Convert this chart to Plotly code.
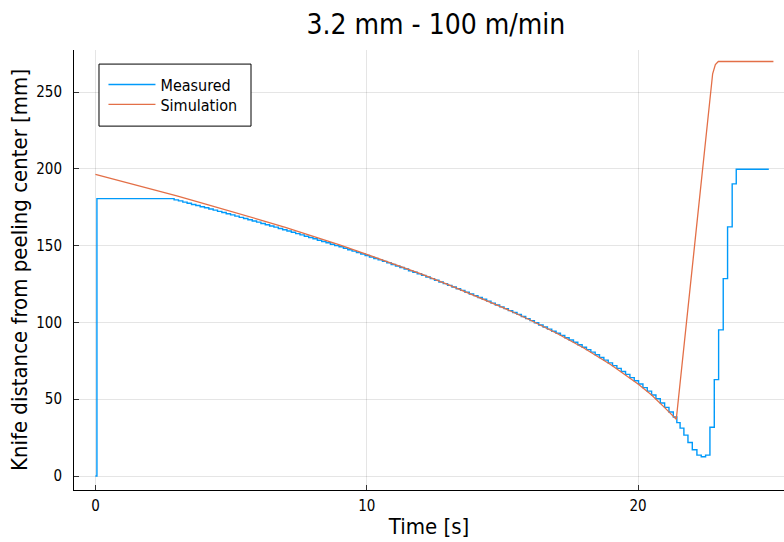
import numpy as np
import plotly.graph_objects as go

# ---------------- data ----------------
# Simulation (time [s], distance [mm])
sim_t = [0, 1, 2, 3, 4, 5, 6, 7, 8, 9, 10, 11, 12, 13, 14, 15, 16, 17, 18, 19,
         20, 20.5, 21, 21.2, 21.41, 22.75, 22.85, 22.96, 24.99]
sim_v = [196.5, 191.9, 187.2, 182.4, 177.5, 172.5, 167.2, 161.9, 156.3, 150.5,
         144.4, 138.1, 131.6, 124.7, 117.4, 109.9, 101.8, 93.0, 83.4, 72.5,
         59.9, 52.7, 44.2, 40.4, 37.0, 262.0, 268.0, 270.0, 270.0]

# Measured: start, flat section
meas_start_t = [0.0, 0.055]
meas_start_v = [0.0, 180.7]

# Measured: sampled descent (sample period 0.16 s from t = 2.74 s)
meas_t0 = 2.74
meas_dt = 0.16
meas_desc_v = [
    180.7, 179.9, 179.2, 178.4, 177.7, 176.9, 176.2, 175.4, 174.7, 173.9,
    173.2, 172.4, 171.6, 170.8, 170.1, 169.3, 168.5, 167.7, 166.9, 166.1,
    165.4, 164.5, 163.7, 162.9, 162.1, 161.2, 160.4, 159.6, 158.8, 157.9,
    157.1, 156.2, 155.4, 154.5, 153.6, 152.8, 151.9, 151.0, 150.1, 149.3,
    148.4, 147.4, 146.5, 145.5, 144.6, 143.6, 142.7, 141.7, 140.8, 139.8,
    138.9, 137.8, 136.8, 135.8, 134.8, 133.7, 132.7, 131.7, 130.7, 129.6,
    128.6, 127.5, 126.4, 125.3, 124.2, 123.1, 122.0, 120.9, 119.7, 118.6,
    117.5, 116.3, 115.1, 113.9, 112.6, 111.4, 110.2, 109.0, 107.7, 106.5,
    105.3, 103.9, 102.5, 101.2, 99.8, 98.4, 97.1, 95.7, 94.3, 93.0,
    91.6, 90.1, 88.6, 87.1, 85.5, 83.9, 82.3, 80.7, 79.0, 77.2,
    75.5, 73.7, 71.9, 70.1, 68.1, 66.2, 64.1, 62.0, 59.9, 57.6,
    55.3, 52.8, 50.3, 47.6, 44.7, 41.7, 38.4,
]

# Measured: tail (dip and retraction)
meas_tail_t = [21.43, 21.55, 21.69, 21.84, 22.00, 22.17, 22.33, 22.49, 22.65,
               22.81, 22.97, 23.14, 23.30, 23.47, 23.62, 24.82]
meas_tail_v = [34.8, 31.2, 26.6, 21.8, 17.1, 13.6, 12.5, 13.6, 31.8,
               62.8, 95.2, 128.6, 162.3, 190.3, 199.8, 199.8]

x_ticks = [0, 10, 20]
y_ticks = [0, 50, 100, 150, 200, 250]

title_text = "3.2 mm - 100 m/min"
x_title = "Time [s]"
y_title = "Knife distance from peeling center [mm]"

# ---------------- assemble ----------------
meas_desc_t = list(np.round(meas_t0 + meas_dt * np.arange(len(meas_desc_v)), 3))
meas_t = meas_start_t + meas_desc_t + meas_tail_t
meas_v = meas_start_v + meas_desc_v + meas_tail_v

FONT = "DejaVu Sans Condensed, DejaVu Sans, sans-serif"

fig = go.Figure()
fig.add_trace(go.Scatter(x=meas_t, y=meas_v, mode="lines", name="Measured",
                         legend="legend",
                         line=dict(color="#009AFA", width=1.4, shape="hv")))
fig.add_trace(go.Scatter(x=sim_t, y=sim_v, mode="lines", name="Simulation",
                         legend="legend2",
                         line=dict(color="#E36F47", width=1.3)))

axis_common = dict(showline=True, linecolor="black", linewidth=1,
                   showgrid=True, gridcolor="rgba(0,0,0,0.1)", gridwidth=1,
                   ticks="inside", ticklen=5, tickcolor="#333333",
                   zeroline=False, automargin=False,
                   tickfont=dict(size=15, color="black", family=FONT),
                   mirror=False)

# legend frame (decoration, paper coordinates)
fig.add_shape(type="rect", xref="paper", yref="paper",
              x0=0.0352, x1=0.2493, y0=0.827, y1=0.968,
              line=dict(color="black", width=1), fillcolor="white", layer="above")

legend_common = dict(xanchor="left", yanchor="top", borderwidth=0,
                     bgcolor="rgba(0,0,0,0)", itemwidth=47,
                     font=dict(size=16, family=FONT, color="black"))

fig.update_layout(
    width=784, height=542,
    margin=dict(l=74, r=0, t=50, b=52),
    paper_bgcolor="white", plot_bgcolor="white",
    font=dict(family=FONT, color="black"),
    title=dict(text=title_text, x=0.556, xanchor="center", y=0.973, yanchor="top",
               font=dict(size=28, family=FONT, color="black")),
    showlegend=True,
    legend=dict(x=0.0415, y=0.960, **legend_common),
    legend2=dict(x=0.0415, y=0.915, **legend_common),
    xaxis=dict(range=[-0.79, 25.38], tickvals=x_ticks, ticklabelstandoff=2,
               title=dict(text=x_title, font=dict(size=22, family=FONT), standoff=4),
               **axis_common),
    yaxis=dict(range=[-9.12, 277.5], tickvals=y_ticks, ticklabelstandoff=8,
               title=dict(text=y_title, font=dict(size=22, family=FONT), standoff=2),
               **axis_common),
)

fig.write_html("out.html",
               config={"displayModeBar": False},
               post_script="document.body.style.margin='0';document.body.style.padding='0';")
